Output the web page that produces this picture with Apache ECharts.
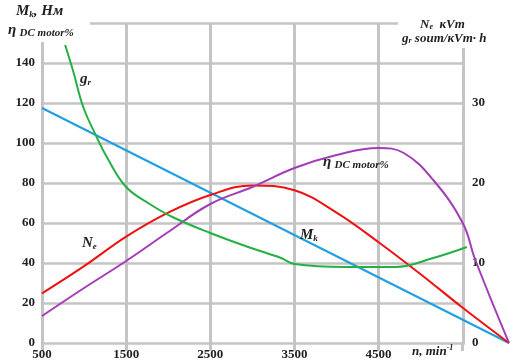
<!DOCTYPE html>
<html>
<head>
<meta charset="utf-8">
<script src="https://cdn.jsdelivr.net/npm/echarts@6/dist/echarts.min.js"></script>
<style>
  html, body { margin: 0; padding: 0; background: #fff; }
  #chart { width: 516px; height: 361px; }
</style>
</head>
<body>
<div id="chart"></div>
<script>
// torque Mk, N·m (left axis)
const mkRpm = [500, 6050];
const mkValues = [117.5, 0];

// power Ne, kW (right axis)
const neRpm = [500, 1000, 1500, 2000, 2500, 3000, 3500, 4000, 4500, 5000, 5500, 6050];
const neValues = [6.2, 9.6, 13.3, 16.3, 18.5, 19.7, 19.1, 16.3, 12.6, 8.6, 4.4, 0];

// efficiency of DC motor, % (left axis)
const etaRpm = [500, 1000, 1500, 2000, 2500, 3000, 3500, 4000, 4500, 4800, 5150, 5500, 5650, 6050];
const etaValues = [13.5, 27.5, 41, 55.5, 69.5, 78, 87.5, 94, 97.5, 95, 81.5, 60, 41.5, 0];

// specific consumption gr (drawn against left scale)
const grRpm = [775, 870, 990, 1150, 1270, 1500, 1780, 2050, 2500, 2950, 3340, 3500, 4100, 4700, 5150, 5550];
const grValues = [149, 136, 118, 103, 93, 78, 69.5, 63, 55, 48, 42.5, 39.5, 38, 38, 42.5, 48];

const xTicks = [500, 1500, 2500, 3500, 4500];
const xGrid = [500, 1500, 2500, 3500, 4500, 5500];

const pairs = (xs, ys) => xs.map((x, i) => [x, ys[i]]);

const serif = "'Liberation Serif', 'DejaVu Serif', serif";
const gridColor = "#c4c4c4";

function richText(text, left, top, big, small, pad) {
  return {
    type: "text", z: 60, left, top,
    style: {
      text,
      rich: {
        b: { fontFamily: serif, fontStyle: "italic", fontWeight: "bold", fontSize: big, fill: "#222" },
        s: { fontFamily: serif, fontStyle: "italic", fontWeight: "bold", fontSize: small, fill: "#222", padding: pad }
      }
    }
  };
}

const chart = echarts.init(document.getElementById("chart"));

chart.setOption({
  animation: false,
  grid: { left: 42, right: 7, top: 23, bottom: 18 },
  xAxis: {
    type: "value",
    min: 500,
    max: 6050,
    interval: 1000,
    axisLine: { show: false },
    axisTick: { show: true, length: 8, customValues: xGrid, lineStyle: { color: gridColor, width: 3 } },
    axisLabel: {
      margin: 5,
      color: "#222",
      fontFamily: serif,
      fontWeight: "bold",
      fontSize: 13,
      customValues: xTicks,
      formatter: v => String(v)
    },
    splitLine: { show: true, showMaxLine: false, lineStyle: { color: gridColor, width: 3 } }
  },
  yAxis: [
    {
      type: "value",
      min: 0,
      max: 160,
      interval: 20,
      axisLine: { show: true, lineStyle: { color: gridColor, width: 3 } },
      axisTick: { show: false },
      axisLabel: {
        margin: 7,
        color: "#222",
        fontFamily: serif,
        fontWeight: "bold",
        fontSize: 13,
        formatter: v => (v >= 160 ? "" : String(v))
      },
      splitLine: { show: true, lineStyle: { color: gridColor, width: 2.5 } }
    },
    {
      type: "value",
      position: "right",
      offset: -46,
      z: 3,
      min: 0,
      max: 40,
      interval: 10,
      axisLine: { show: true, lineStyle: { color: gridColor, width: 3 } },
      axisTick: { show: false },
      axisLabel: {
        margin: 9,
        color: "#222",
        fontFamily: serif,
        fontWeight: "bold",
        fontSize: 13,
        formatter: v => (v >= 40 ? "" : String(v))
      },
      splitLine: { show: false }
    }
  ],
  series: [
    {
      name: "Mk",
      type: "line",
      z: 4,
      showSymbol: false,
      lineStyle: { color: "#1f9fe2", width: 2 },
      data: pairs(mkRpm, mkValues)
    },
    {
      name: "Ne",
      type: "line",
      yAxisIndex: 1,
      z: 4,
      smooth: 0.4,
      showSymbol: false,
      lineStyle: { color: "#ee1111", width: 2 },
      data: pairs(neRpm, neValues)
    },
    {
      name: "eta",
      type: "line",
      z: 4,
      smooth: 0.4,
      showSymbol: false,
      lineStyle: { color: "#a33db5", width: 2 },
      data: pairs(etaRpm, etaValues)
    },
    {
      name: "gr",
      type: "line",
      z: 4,
      smooth: 0.4,
      showSymbol: false,
      lineStyle: { color: "#25b044", width: 2 },
      data: pairs(grRpm, grValues)
    }
  ],
  graphic: [
    // hide the horizontal grid right of the kW axis
    { type: "rect", z: 1, shape: { x: 465, y: 0, width: 51, height: 346 }, style: { fill: "#fff" } },
    // white patches where the axis titles sit
    { type: "rect", z: 50, shape: { x: 0, y: 0, width: 90, height: 42 }, style: { fill: "#fff" } },
    { type: "rect", z: 50, shape: { x: 398, y: 0, width: 118, height: 48 }, style: { fill: "#fff" } },
    richText("{b|M}{s|k}{b|, Нм}", 16, 4, 15, 9, [6, 0, 0, 0]),
    richText("{b|η} {s|DC motor%}", 8, 23, 15, 11, [6, 0, 0, 0]),
    richText("{b|N}{s|e}{b|  кVm}", 420, 18, 13, 8, [5, 0, 0, 0]),
    richText("{b|g}{s|r}{b| soum/кVm· h}", 402, 32, 13, 8, [5, 0, 0, 0]),
    richText("{b|n, min}{s|-1}", 412, 344, 13, 8, [0, 0, 7, 0]),
    // curve labels
    richText("{b|g}{s|r}", 80, 72, 15, 9, [6, 0, 0, 0]),
    richText("{b|N}{s|e}", 82, 236, 15, 9, [6, 0, 0, 0]),
    richText("{b|M}{s|k}", 300, 228, 15, 9, [6, 0, 0, 0]),
    richText("{b|η} {s|DC motor%}", 323, 155, 15, 11, [6, 0, 0, 0])
  ]
});
</script>
</body>
</html>
